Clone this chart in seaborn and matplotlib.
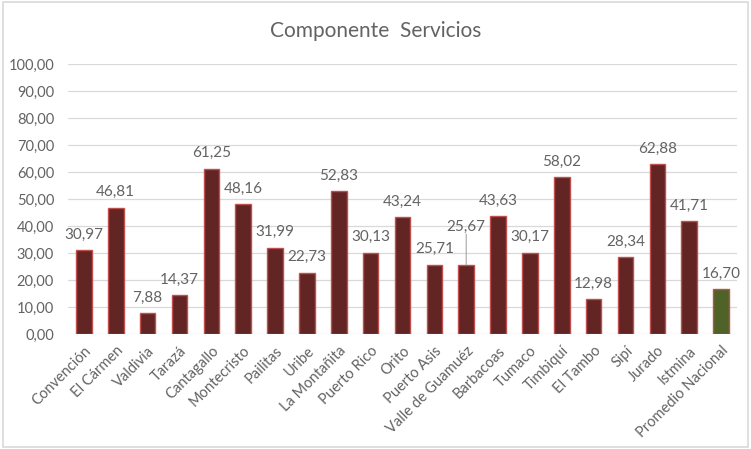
import matplotlib
matplotlib.use('Agg')
import matplotlib.pyplot as plt
import seaborn as sns
import pandas as pd
from matplotlib.patches import Rectangle

municipios = ['Convención', 'El Cármen', 'Valdivia', 'Tarazá', 'Cantagallo',
              'Montecristo', 'Pailitas', 'Uribe', 'La Montañita', 'Puerto Rico',
              'Orito', 'Puerto Asis', 'Valle de Guamuéz', 'Barbacoas', 'Tumaco',
              'Timbiquí', 'El Tambo', 'Sipí', 'Jurado', 'Istmina',
              'Promedio Nacional']
valores = [30.97, 46.81, 7.88, 14.37, 61.25, 48.16, 31.99, 22.73, 52.83, 30.13,
           43.24, 25.71, 25.67, 43.63, 30.17, 58.02, 12.98, 28.34, 62.88, 41.71,
           16.70]
yticks = [0, 10, 20, 30, 40, 50, 60, 70, 80, 90, 100]

sns.set_style('white')
plt.rcParams['font.family'] = ['Lato', 'DejaVu Sans']
gris = '#636363'

df = pd.DataFrame({'municipio': municipios, 'valor': valores})
colores = {m: ('#4F6228' if m == 'Promedio Nacional' else '#632523') for m in municipios}

fig = plt.figure(figsize=(7.51, 4.49), dpi=100)
ax = fig.add_axes([0.0905, 0.2561, 0.8909, 0.6014])

sns.barplot(data=df, x='municipio', y='valor', hue='municipio', palette=colores,
            legend=False, width=0.49, edgecolor='#C0504D', linewidth=1.0,
            saturation=1, ax=ax)

ax.set_xlim(-0.5, len(municipios) - 0.5)
ax.set_ylim(0, 100)
ax.set_yticks(yticks)
ax.set_yticklabels([f'{v:.2f}'.replace('.', ',') for v in yticks], fontsize=10.5, color=gris)
ax.yaxis.grid(True, color='#D9D9D9', linewidth=0.9)
ax.set_axisbelow(True)
for s in ax.spines.values():
    s.set_visible(False)
ax.tick_params(axis='y', length=0, pad=10)
ax.tick_params(axis='x', length=0, pad=7)
ax.set_xticks(range(len(municipios)))
ax.set_xticklabels(municipios, rotation=45, ha='right', rotation_mode='anchor',
                   fontsize=10.5, color=gris)
ax.set_xlabel('')
ax.set_ylabel('')

# etiquetas de datos
for i, v in enumerate(valores):
    txt = f'{v:.2f}'.replace('.', ',')
    if municipios[i] == 'Valle de Guamuéz':
        ax.annotate(txt, (i, v), xytext=(0, 27), textcoords='offset points',
                    ha='center', va='center', fontsize=11, color=gris)
        ax.annotate('', (i, v), xytext=(0, 22), textcoords='offset points',
                    arrowprops=dict(arrowstyle='-', color='#A6A6A6', lw=0.8,
                                    shrinkA=0, shrinkB=0))
    else:
        ax.annotate(txt, (i, v), xytext=(0, 11), textcoords='offset points',
                    ha='center', va='center', fontsize=11, color=gris)

fig.text(0.5, 0.93, 'Componente  Servicios', ha='center', va='center',
         fontsize=15, color=gris)

fig.patches.append(Rectangle((0.004, 0.004), 0.992, 0.992, transform=fig.transFigure,
                             fill=False, edgecolor='#D9D9D9', linewidth=1.2))

fig.savefig('out.png', dpi=100)
